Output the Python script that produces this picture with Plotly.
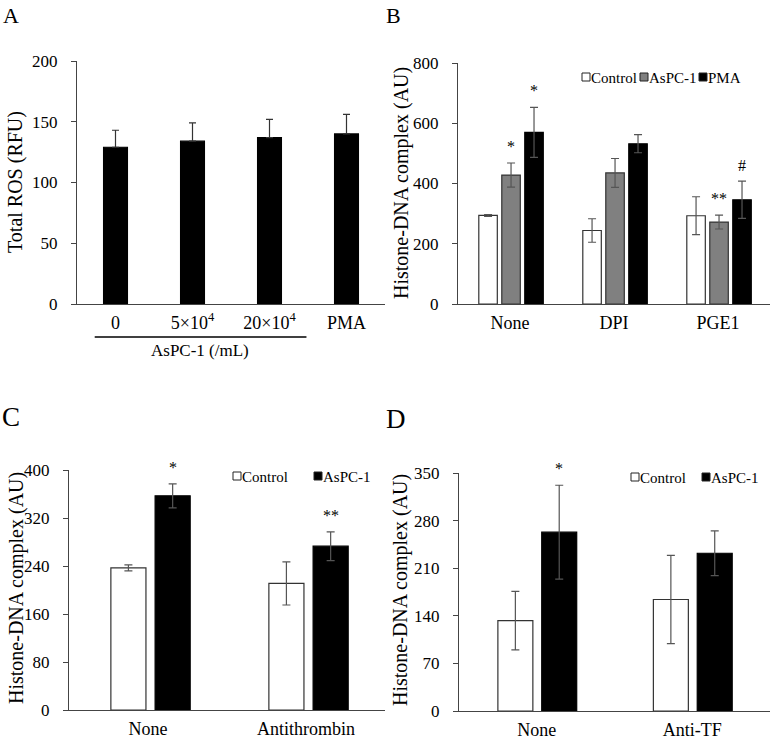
import plotly.graph_objects as go

W, H = 771, 740
FONT = "Liberation Serif"

# ---------------- data ----------------
# Panel A
a_cats = ["0", "5×10<sup>4</sup>", "20×10<sup>4</sup>", "PMA"]
a_vals = [129, 134, 137, 140]
a_err = [14, 15, 15, 16]

# Panel B
b_cats = ["None", "DPI", "PGE1"]
b_control = [294, 244, 293]
b_control_err = [3, 39, 63]
b_aspc = [428, 435, 272]
b_aspc_err = [40, 48, 23]
b_pma = [570, 532, 346]
b_pma_err = [83, 30, 62]
b_marks_aspc = ["*", "", "**"]
b_marks_pma = ["*", "", "#"]

# Panel C
c_cats = ["None", "Antithrombin"]
c_control = [237, 211]
c_control_err = [5, 36]
c_aspc = [357, 273]
c_aspc_err = [20, 24]
c_marks_aspc = ["*", "**"]

# Panel D
d_cats = ["None", "Anti-TF"]
d_control = [133, 164]
d_control_err = [43, 65]
d_aspc = [263, 232]
d_aspc_err = [69, 33]
d_marks_aspc = ["*", ""]

series_names = ["Control", "AsPC-1", "PMA"]

# ---------------- layout geometry (pixels -> paper) ----------------
def fx(x):
    return x / W

def fy(y):
    return 1 - y / H

def dom_x(x0, x1):
    return [fx(x0), fx(x1)]

def dom_y(top, bottom):
    return [fy(bottom), fy(top)]

fig = go.Figure()

WHITE = "white"
GRAY = "#808080"
BLACK = "black"
EDGE = "#333333"
ERRC = "#555555"


def add_bars(cats, vals, errs, color, offset, width, xa, ya, name, errcolor=ERRC,
             symmetric=True, capw=4):
    ey = dict(type="data", array=errs, visible=True, color=errcolor,
              thickness=1.2, width=capw)
    if not symmetric:
        ey["symmetric"] = False
        ey["arrayminus"] = [0] * len(errs)
    fig.add_trace(go.Bar(
        x=cats, y=vals, offset=offset, width=width, name=name,
        marker=dict(color=color, line=dict(color=EDGE if color != BLACK else BLACK, width=1.2)),
        error_y=ey, xaxis=xa, yaxis=ya, showlegend=False,
    ))


# A
add_bars(a_cats, a_vals, a_err, BLACK, -0.155, 0.31, "x", "y", "Total ROS",
         errcolor="#333333", symmetric=False, capw=3.5)
# B
bw = 0.178
add_bars(b_cats, b_control, b_control_err, WHITE, -0.300, bw, "x2", "y2", series_names[0])
add_bars(b_cats, b_aspc, b_aspc_err, GRAY, -0.079, bw, "x2", "y2", series_names[1])
add_bars(b_cats, b_pma, b_pma_err, BLACK, 0.142, bw, "x2", "y2", series_names[2])
# C
cw = 0.222
add_bars(c_cats, c_control, c_control_err, WHITE, -0.235, cw, "x3", "y3", series_names[0])
add_bars(c_cats, c_aspc, c_aspc_err, BLACK, 0.045, cw, "x3", "y3", series_names[1])
# D
dw = 0.225
add_bars(d_cats, d_control, d_control_err, WHITE, -0.25, dw, "x4", "y4", series_names[0])
add_bars(d_cats, d_aspc, d_aspc_err, BLACK, 0.032, dw, "x4", "y4", series_names[1])

axis_common = dict(showline=True, linecolor="#444444", linewidth=1,
                   showgrid=False, zeroline=False, mirror=False, automargin=False)
xcommon = dict(axis_common, ticks="", tickfont=dict(family=FONT, size=18, color="black"),
               ticklabelstandoff=2)
ycommon = dict(axis_common, ticks="outside", ticklen=5, tickcolor="#444444",
               tickfont=dict(family=FONT, size=17, color="black"),
               ticklabelstandoff=10)

fig.update_layout(
    width=W, height=H, margin=dict(l=0, r=0, t=0, b=0),
    paper_bgcolor="white", plot_bgcolor="white",
    barmode="overlay",
    font=dict(family=FONT, color="black"),
    xaxis=dict(xcommon, domain=dom_x(77, 385), anchor="y", range=[-0.5, 3.5]),
    yaxis=dict(ycommon, domain=dom_y(61, 304), anchor="x", range=[0, 200],
               tickvals=[0, 50, 100, 150, 200]),
    xaxis2=dict(xcommon, domain=dom_x(458, 770), anchor="y2", range=[-0.5, 2.5]),
    yaxis2=dict(ycommon, domain=dom_y(63, 304), anchor="x2", range=[0, 800],
                tickvals=[0, 200, 400, 600, 800]),
    xaxis3=dict(xcommon, domain=dom_x(69, 385), anchor="y3", range=[-0.5, 1.5]),
    yaxis3=dict(ycommon, domain=dom_y(470, 710), anchor="x3", range=[0, 400],
                tickvals=[0, 80, 160, 240, 320, 400]),
    xaxis4=dict(xcommon, domain=dom_x(459, 770), anchor="y4", range=[-0.5, 1.5]),
    yaxis4=dict(ycommon, domain=dom_y(473, 711), anchor="x4", range=[0, 350],
                tickvals=[0, 70, 140, 210, 280, 350]),
)

ann = []
shapes = []

# y-axis titles (rotated text)
title_font = dict(family=FONT, size=20, color="black")
for t, px, py in [("Total ROS (RFU)", 15, 182),
                  ("Histone-DNA complex (AU)", 401, 183),
                  ("Histone-DNA complex (AU)", 16, 588),
                  ("Histone-DNA complex (AU)", 400, 590)]:
    ann.append(dict(x=fx(px), y=fy(py), xref="paper", yref="paper", text=t,
                    textangle=-90, showarrow=False, xanchor="center", yanchor="middle",
                    font=title_font))


def star_marks(marks, vals, errs, offset, width, xa, ya):
    for i, (m, v, e) in enumerate(zip(marks, vals, errs)):
        if not m:
            continue
        ann.append(dict(x=i + offset + width / 2, y=v + e, xref=xa, yref=ya,
                        text=m, showarrow=False, yanchor="bottom",
                        yshift=6 if m != "#" else 5,
                        font=dict(family=FONT, size=16, color="black")))

star_marks(b_marks_aspc, b_aspc, b_aspc_err, -0.079, bw, "x2", "y2")
star_marks(b_marks_pma, b_pma, b_pma_err, 0.142, bw, "x2", "y2")
star_marks(c_marks_aspc, c_aspc, c_aspc_err, 0.045, cw, "x3", "y3")
star_marks(d_marks_aspc, d_aspc, d_aspc_err, 0.032, dw, "x4", "y4")

# panel letters
for letter, px, py, sz in [("A", 1, 1, 22), ("B", 384, 1, 22), ("C", 0, 400, 27), ("D", 384, 402, 27)]:
    ann.append(dict(x=fx(px), y=fy(py), xref="paper", yref="paper",
                    text=letter, showarrow=False, xanchor="left", yanchor="top",
                    font=dict(family=FONT, size=sz, color="black")))

# legend keys: square + label
leg_font = dict(family=FONT, size=15, color="black")

def legend_item(x_sq, yc, color, label):
    s = 8
    shapes.append(dict(type="rect", xref="paper", yref="paper",
                       x0=fx(x_sq), x1=fx(x_sq + s),
                       y0=fy(yc + s / 2), y1=fy(yc - s / 2),
                       fillcolor=color, line=dict(color="#222222", width=1)))
    ann.append(dict(x=fx(x_sq + s - 1), y=fy(yc + 1), xref="paper", yref="paper",
                    xanchor="left", yanchor="middle", showarrow=False,
                    text=label, font=leg_font))

legend_item(582, 77, WHITE, series_names[0])
legend_item(640, 77, GRAY, series_names[1])
legend_item(699, 77, BLACK, series_names[2])
legend_item(233, 476, WHITE, series_names[0])
legend_item(314, 476, BLACK, series_names[1])
legend_item(631, 477, WHITE, series_names[0])
legend_item(702, 477, BLACK, series_names[1])

# Panel A group bracket and label
ann.append(dict(x=1.1, y=fy(350), xref="x", yref="paper", showarrow=False,
                text="AsPC-1 (/mL)", yanchor="middle",
                font=dict(family=FONT, size=17, color="black")))
shapes.append(dict(type="line", xref="x", yref="paper", x0=-0.27, x1=2.48,
                   y0=fy(337), y1=fy(337), line=dict(color="black", width=1.3)))

fig.update_layout(annotations=ann, shapes=shapes)
fig.write_html("out.html", config={"displayModeBar": False},
               post_script="document.body.style.margin='0px';document.body.style.overflow='hidden';")
